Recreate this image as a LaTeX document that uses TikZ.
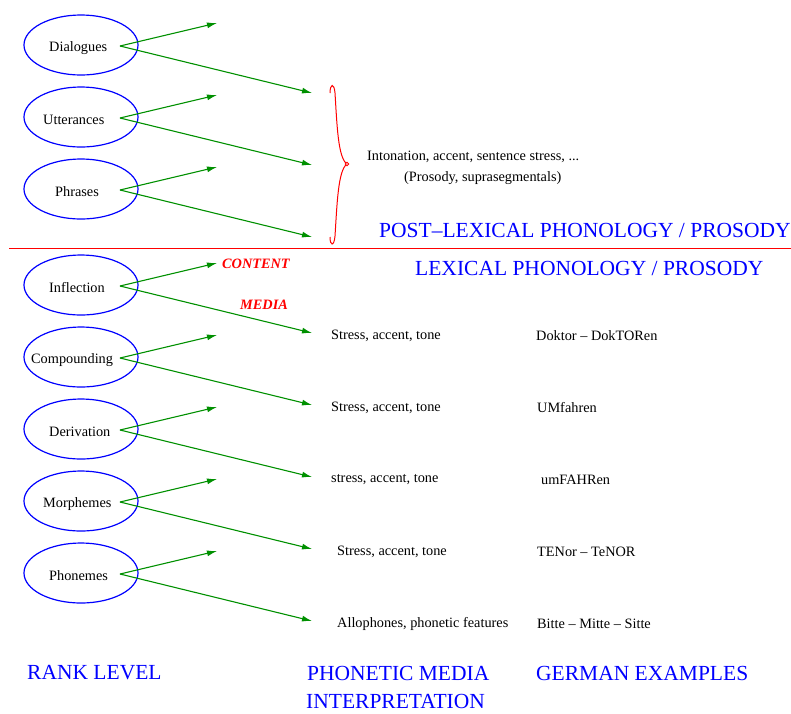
\documentclass[tikz,border=0pt]{standalone}
\usepackage{fontspec}
\setmainfont{Liberation Serif}
\usetikzlibrary{shapes.geometric,arrows.meta}
\definecolor{fgreen}{RGB}{0,144,0}
\begin{document}
\begin{tikzpicture}[x=1pt,y=-1pt,
 rank/.style={ellipse,draw=blue,line width=1.2,minimum width=114,minimum height=60,inner sep=0},
 lbl/.style={font=\fontsize{14.3}{16}\selectfont,inner sep=0,anchor=west,yshift=-1.5pt},
 tag/.style={font=\fontsize{14.3}{16}\selectfont\bfseries\itshape,text=red,inner sep=0,anchor=west,yshift=-1pt},
 big/.style={font=\fontsize{21.5}{24}\selectfont,text=blue,inner sep=0,anchor=west},
 conn/.style={draw=fgreen,line width=1.1,-{Latex[length=10,width=6]}},
]
\useasboundingbox (0,0) rectangle (791,713);

\foreach \n/\t/\y/\tx in {dia/Dialogues/45/49, utt/Utterances/117/43, phr/Phrases/189/55, inf/Inflection/285/49, com/Compounding/357/31, der/Derivation/429/49, mor/Morphemes/501/43, pho/Phonemes/573/49} {
  \node[rank] (\n) at (81,\y) {};
  \node[lbl] (\n-t) at (\tx,\y+1.5) {\t};
  \coordinate (\n-s) at (120,\y+1);
  \coordinate (\n-u) at (217,\y-22);
  \coordinate (\n-d) at (312,\y+48);
  \draw[conn] (\n-s) -- (\n-u);
  \draw[conn] (\n-s) -- (\n-d);
}

% separator line
\draw[red,line width=1] (9,248) -- (791,248);

% brace
\coordinate (tip) at (347,164);
\draw[red,line width=1] (330,93) .. controls (330,84) and (334,82) .. (335,93)
  .. controls (337,125) and (338,158) .. (tip)
  .. controls (338,170) and (337,205) .. (335,236)
  .. controls (334,247) and (330,246) .. (330,237);
\draw[red,line width=0.9,fill=white] (tip) circle (1.8);

\node[lbl] (into) at (367,155) {Intonation, accent, sentence stress, ...};
\node[lbl] (pros) at (404,177) {(Prosody, suprasegmentals)};
\node[big] (post) at (379,230) {POST–LEXICAL PHONOLOGY / PROSODY};
\node[big] (lex) at (415,268) {LEXICAL PHONOLOGY / PROSODY};
\node[tag] (cont) at (222,263) {CONTENT};
\node[tag] (media) at (240,304) {MEDIA};

\node[lbl] (m1) at (331,334) {Stress, accent, tone};
\node[lbl] (m2) at (331,406) {Stress, accent, tone};
\node[lbl] (m3) at (331,478) {stress, accent, tone};
\node[lbl] (m4) at (337,550) {Stress, accent, tone};
\node[lbl] (m5) at (337,622) {Allophones, phonetic features};

\node[lbl] (g1) at (536,334) {Doktor – DokTORen};
\node[lbl] (g2) at (537,406) {UMfahren};
\node[lbl] (g3) at (541,478) {umFAHRen};
\node[lbl] (g4) at (537,550) {TENor – TeNOR};
\node[lbl] (g5) at (537,622) {Bitte – Mitte – Sitte};

\node[big] (rank) at (27,673) {RANK LEVEL};
\node[big] (pmi) at (307,673) {PHONETIC MEDIA};
\node[big] (pmi2) at (306,701) {INTERPRETATION};
\node[big] (ger) at (536,673) {GERMAN EXAMPLES};
\end{tikzpicture}
\end{document}
